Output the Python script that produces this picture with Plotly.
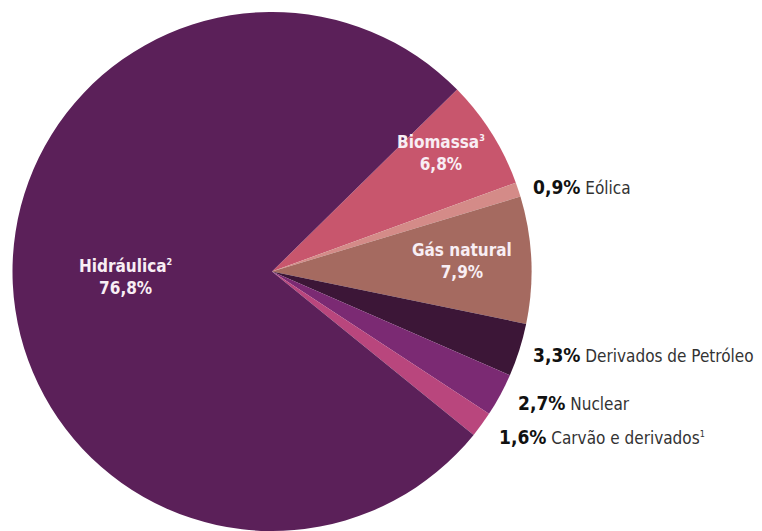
import plotly.graph_objects as go

# Matriz elétrica - participação por fonte (%)
fontes = ["Biomassa", "Eólica", "Gás natural", "Derivados de Petróleo",
          "Nuclear", "Carvão e derivados", "Hidráulica"]
notas = ["3", "", "", "", "", "1", "2"]
valores = [6.8, 0.9, 7.9, 3.3, 2.7, 1.6, 76.8]
cores = ["#c8566d", "#d48b88", "#a56a60", "#3c1637",
         "#7b2a73", "#b9467d", "#5b2059"]

W, H = 762, 531
FONTE = "DejaVu Sans Condensed, Liberation Sans Narrow, Arial Narrow, sans-serif"

fig = go.Figure(go.Pie(
    labels=fontes,
    values=valores,
    marker=dict(colors=cores, line=dict(width=0)),
    sort=False,
    direction="clockwise",
    rotation=45.5,
    textinfo="none",
    hoverinfo="label+percent",
    domain=dict(x=[12 / W, 532 / W], y=[0, 519 / H]),
))


def fmt(v):
    return f"{v:.1f}".replace(".", ",") + "%"


def nome(i):
    n = fontes[i]
    if notas[i]:
        n += f"<sup><span style='font-size:9px'>{notas[i]}</span></sup>"
    return n


def px(x, y):
    return x / W, 1 - y / H


annots = []
# rótulos internos (dentro da fatia)
inside = {6: (125, 277), 0: (441, 153), 2: (462, 261)}
for i, (x, y) in inside.items():
    ax, ay = px(x, y)
    annots.append(dict(
        x=ax, y=ay, xref="paper", yref="paper", showarrow=False,
        xanchor="center", yanchor="middle",
        text=f"<b>{nome(i)}<br>{fmt(valores[i])}</b>",
        font=dict(family=FONTE, size=17, color="#f8eef4"),
        align="center",
    ))

# rótulos externos
outside = {1: (532, 187), 3: (532, 355), 4: (517, 403), 5: (498, 437)}
for i, (x, y) in outside.items():
    ax, ay = px(x, y)
    annots.append(dict(
        x=ax, y=ay, xref="paper", yref="paper", showarrow=False,
        xanchor="left", yanchor="middle", borderpad=0,
        text=f"<span style='font-size:19px;color:#111'><b>{fmt(valores[i])}</b></span> {nome(i)}",
        font=dict(family=FONTE, size=17, color="#333"),
        align="left",
    ))

fig.update_layout(
    width=W, height=H,
    margin=dict(l=0, r=0, t=0, b=0),
    showlegend=False,
    paper_bgcolor="white",
    annotations=annots,
)

fig.write_html("out.html", config={"displayModeBar": False},
               post_script="document.body.style.margin='0';")
